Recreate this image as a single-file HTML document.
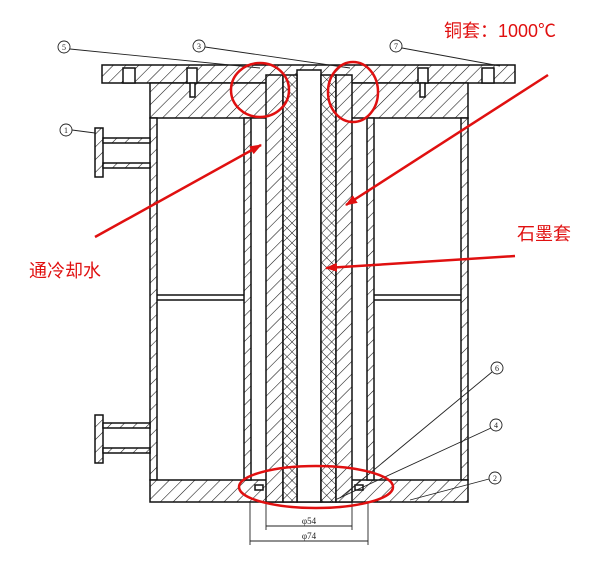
<!DOCTYPE html>
<html><head><meta charset="utf-8"><style>
html,body{margin:0;padding:0;background:#fff}
svg{display:block}
</style></head><body>
<svg width="605" height="574" viewBox="0 0 605 574" xmlns="http://www.w3.org/2000/svg" font-family="Liberation Serif, serif">
<defs>
<pattern id="h" width="9" height="9" patternUnits="userSpaceOnUse" patternTransform="rotate(45)">
<rect width="9" height="9" fill="#fff"/><line x1="0" y1="0" x2="0" y2="9" stroke="#111" stroke-width="1.1"/></pattern>
<pattern id="x" width="7" height="7" patternUnits="userSpaceOnUse" patternTransform="rotate(45)">
<rect width="7" height="7" fill="#fff"/><line x1="0" y1="0" x2="0" y2="7" stroke="#111" stroke-width="1"/><line x1="0" y1="0" x2="7" y2="0" stroke="#111" stroke-width="1"/></pattern>
<marker id="ar" markerWidth="12" markerHeight="9" refX="11" refY="4.5" orient="auto" markerUnits="userSpaceOnUse"><path d="M0,0 L12,4.5 L0,9z" fill="#e01010"/></marker>
</defs>
<g stroke="#111" stroke-width="1.5">
<rect x="102" y="65" width="413" height="18" fill="url(#h)"/>
<rect x="150" y="83" width="318" height="35" fill="url(#h)"/>
<rect x="150" y="118" width="7" height="362" fill="url(#h)"/>
<rect x="461" y="118" width="7" height="362" fill="url(#h)"/>
<rect x="150" y="480" width="318" height="22" fill="url(#h)"/>
<line x1="157" y1="295" x2="244" y2="295"/><line x1="157" y1="300" x2="244" y2="300"/>
<line x1="374" y1="295" x2="461" y2="295"/><line x1="374" y1="300" x2="461" y2="300"/>
<rect x="244" y="118" width="7" height="362" fill="url(#h)"/>
<rect x="367" y="118" width="7" height="362" fill="url(#h)"/>
<rect x="123" y="68" width="12" height="15" fill="#fff"/><rect x="187" y="68" width="10" height="15" fill="#fff"/><rect x="190" y="83" width="5" height="14" fill="#fff"/>
<rect x="418" y="68" width="10" height="15" fill="#fff"/><rect x="420" y="83" width="5" height="14" fill="#fff"/><rect x="482" y="68" width="12" height="15" fill="#fff"/>
<rect x="297" y="70" width="24" height="432" fill="#fff"/>
<rect x="266" y="75" width="17" height="427" fill="url(#h)"/>
<rect x="283" y="75" width="14" height="427" fill="url(#x)"/>
<rect x="321" y="75" width="15" height="427" fill="url(#x)"/>
<rect x="336" y="75" width="16" height="427" fill="url(#h)"/>
<rect x="255" y="485" width="8" height="5" fill="#fff"/><rect x="355" y="485" width="8" height="5" fill="#fff"/>
<rect x="95" y="128" width="8" height="49" fill="url(#h)"/>
<rect x="103" y="138" width="47" height="5" fill="url(#h)"/><rect x="103" y="163" width="47" height="5" fill="url(#h)"/>
<rect x="95" y="415" width="8" height="48" fill="url(#h)"/>
<rect x="103" y="423" width="47" height="5" fill="url(#h)"/><rect x="103" y="448" width="47" height="5" fill="url(#h)"/>
</g>
<g stroke="#222" stroke-width="0.9" fill="none">
<line x1="250" y1="502" x2="250" y2="545"/><line x1="368" y1="502" x2="368" y2="545"/>
<line x1="266" y1="502" x2="266" y2="530"/><line x1="352" y1="502" x2="352" y2="530"/>
<line x1="266" y1="526" x2="352" y2="526"/><line x1="250" y1="541" x2="368" y2="541"/>
<line x1="70" y1="49" x2="260" y2="68"/><line x1="205" y1="47" x2="350" y2="68"/><line x1="402" y1="48" x2="500" y2="66"/>
<line x1="72" y1="130" x2="95" y2="133"/>
<line x1="492" y1="372" x2="340" y2="498"/><line x1="491" y1="428" x2="335" y2="500"/><line x1="489" y1="479" x2="410" y2="500"/>
<g fill="#fff">
<circle cx="64" cy="47" r="6"/><circle cx="199" cy="46" r="6"/><circle cx="396" cy="46" r="6"/><circle cx="66" cy="130" r="6"/>
<circle cx="497" cy="368" r="6"/><circle cx="496" cy="425" r="6"/><circle cx="495" cy="478" r="6"/></g>
</g>
<g font-size="8" fill="#222" text-anchor="middle">
<text x="64" y="50">5</text><text x="199" y="49">3</text><text x="396" y="49">7</text><text x="66" y="133">1</text>
<text x="497" y="371">6</text><text x="496" y="428">4</text><text x="495" y="481">2</text>
<text x="309" y="524" font-size="9">φ54</text><text x="309" y="539" font-size="9">φ74</text>
</g>
<g stroke="#e01010" stroke-width="2.5" fill="none">
<ellipse cx="260" cy="90" rx="29" ry="27"/>
<ellipse cx="353" cy="92" rx="25" ry="30"/>
<ellipse cx="316" cy="487" rx="77" ry="21"/>
<line x1="95" y1="237" x2="261" y2="145" marker-end="url(#ar)"/>
<line x1="548" y1="75" x2="346" y2="205" marker-end="url(#ar)"/>
<line x1="515" y1="256" x2="326" y2="268" marker-end="url(#ar)"/>
</g>
<g fill="#e01010" font-family="Liberation Sans, Noto Sans CJK SC, sans-serif" font-size="18">
<text x="444" y="37">铜套：1000℃</text>
<text x="517" y="240">石墨套</text>
<text x="29" y="277">通冷却水</text>
</g>
</svg>
</body></html>
